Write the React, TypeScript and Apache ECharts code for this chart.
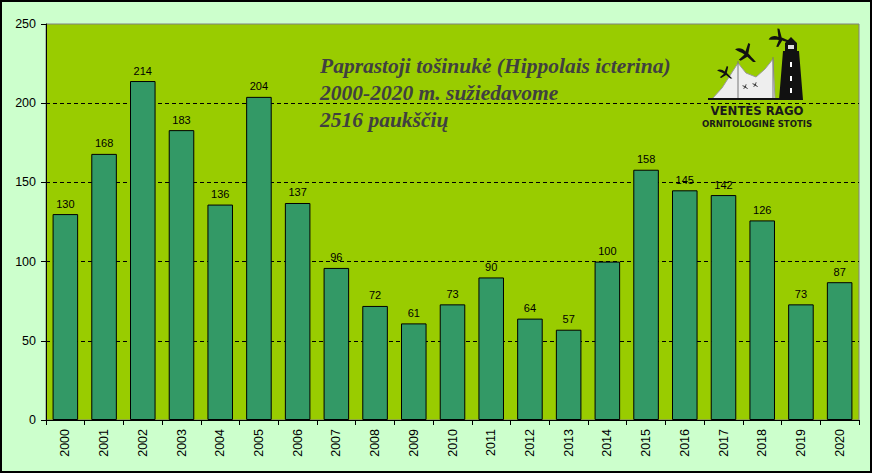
import React, { useEffect, useRef } from "react";
import * as echarts from "echarts";

const years = ["2000","2001","2002","2003","2004","2005","2006","2007","2008","2009","2010","2011","2012","2013","2014","2015","2016","2017","2018","2019","2020"];
const counts = [130,168,214,183,136,204,137,96,72,61,73,90,64,57,100,158,145,142,126,73,87];
const titleLines = ["Paprastoji tošinukė (Hippolais icterina)", "2000-2020 m. sužiedavome", "2516 paukščių"];
const logoLines = ["VENTĖS RAGO", "ORNITOLOGINĖ STOTIS"];

const BIRD = "M0,6 C4,4 8,5 11,8 L14,0 L16,1 L14,10 C16,12 18,14 22,18 L19,18 L13,13 L6,17 L4,16 L10,11 C7,9 3,8 0,6 Z";

export default function App() {
  const ref = useRef<HTMLDivElement>(null);
  useEffect(() => {
    document.body.style.margin = "0";
    try {
      echarts.graphic.registerShape("bird", echarts.graphic.extendPath(BIRD, {}) as any);
    } catch (e) {}
    const chart = echarts.init(ref.current!, null, { renderer: "svg" });
    const font = "Arial, 'Liberation Sans', sans-serif";
    chart.setOption({
      animation: false,
      backgroundColor: "#ffffff",
      grid: {
        left: 46, right: 14, top: 24, bottom: 55,
        show: true, backgroundColor: "#99CC00", borderColor: "#808080", borderWidth: 1,
      },
      xAxis: {
        type: "category",
        data: years,
        axisLine: { lineStyle: { color: "#000", width: 1 } },
        axisTick: { show: true, length: 5, lineStyle: { color: "#000" } },
        axisLabel: { rotate: 90, fontSize: 12.5, fontFamily: font, color: "#000", margin: 9 },
      },
      yAxis: {
        type: "value",
        min: 0, max: 250, interval: 50,
        axisLine: { show: true, lineStyle: { color: "#000", width: 1 } },
        axisTick: { show: true, length: 5, lineStyle: { color: "#000" } },
        axisLabel: { fontSize: 12.5, fontFamily: font, color: "#000", margin: 10 },
        splitLine: { show: true, showMinLine: false, showMaxLine: false, lineStyle: { color: "#000", type: [4, 3], width: 1 } },
      },
      series: [{
        type: "bar",
        data: counts,
        barCategoryGap: "34%",
        itemStyle: { color: "#339966", borderColor: "#000", borderWidth: 1 },
        label: { show: true, position: "top", distance: 5, fontSize: 11, fontFamily: font, color: "#000" },
      }],
      graphic: [
        { type: "rect", z: -10, shape: { x: 1, y: 1, width: 870, height: 471 }, style: { fill: "#CCFFCC", stroke: "#000", lineWidth: 2 }, silent: true },
        ...titleLines.map((t, i) => ({
          type: "text", x: 320, y: 55 + i * 27, z: 10,
          style: { text: t, font: "italic bold 21.5px 'Liberation Serif', 'Times New Roman', serif", fill: "#404040" },
        })),
        // logo: sails
        { type: "polygon", z: 10, shape: { points: [[712, 99], [722, 88], [738, 63], [746, 73], [756, 77], [765, 69], [773, 59], [775, 99]] }, style: { fill: "#eeeeee", stroke: "#9a9a9a", lineWidth: 1 } },
        { type: "line", z: 11, shape: { x1: 738, y1: 61, x2: 738, y2: 99 }, style: { stroke: "#777", lineWidth: 1 } },
        { type: "line", z: 11, shape: { x1: 773, y1: 57, x2: 773, y2: 99 }, style: { stroke: "#777", lineWidth: 1 } },
        { type: "line", z: 11, shape: { x1: 708, y1: 99, x2: 802, y2: 99 }, style: { stroke: "#111", lineWidth: 2 } },
        // lighthouse
        { type: "polygon", z: 12, shape: { points: [[791, 37], [797, 43], [797, 51], [799, 51], [803, 100], [779, 100], [783, 51], [785, 51], [785, 43]] }, style: { fill: "#111" } },
        { type: "rect", z: 13, shape: { x: 788, y: 45, width: 6, height: 4 }, style: { fill: "#ddd" } },
        { type: "rect", z: 13, shape: { x: 790, y: 62, width: 2, height: 5 }, style: { fill: "#fff" } },
        { type: "rect", z: 13, shape: { x: 790, y: 76, width: 2, height: 5 }, style: { fill: "#fff" } },
        { type: "rect", z: 13, shape: { x: 790, y: 88, width: 2, height: 5 }, style: { fill: "#fff" } },
        // birds
        { type: "bird", z: 12, x: 735, y: 43, scaleX: 0.95, scaleY: 1.05, style: { fill: "#111" } },
        { type: "bird", z: 12, x: 766, y: 34, scaleX: 0.9, scaleY: 1.0, rotation: 0.45, style: { fill: "#111" } },
        { type: "bird", z: 12, x: 717, y: 66, scaleX: 0.7, scaleY: 0.7, style: { fill: "#111" } },
        { type: "bird", z: 12, x: 742, y: 84, scaleX: 0.28, scaleY: 0.28, style: { fill: "#333" } },
        { type: "bird", z: 12, x: 752, y: 82, scaleX: 0.28, scaleY: 0.28, style: { fill: "#333" } },
        { type: "text", z: 12, x: 757, y: 110, style: { text: logoLines[0], font: "bold 13px 'DejaVu Sans Condensed', sans-serif", fill: "#1a1a1a", align: "center", verticalAlign: "middle" } },
        { type: "text", z: 12, x: 757, y: 123, style: { text: logoLines[1], font: "bold 9.5px 'DejaVu Sans Condensed', sans-serif", fill: "#1a1a1a", align: "center", verticalAlign: "middle" } },
      ],
    });
    return () => chart.dispose();
  }, []);
  return <div ref={ref} style={{ width: 873, height: 475 }} />;
}
